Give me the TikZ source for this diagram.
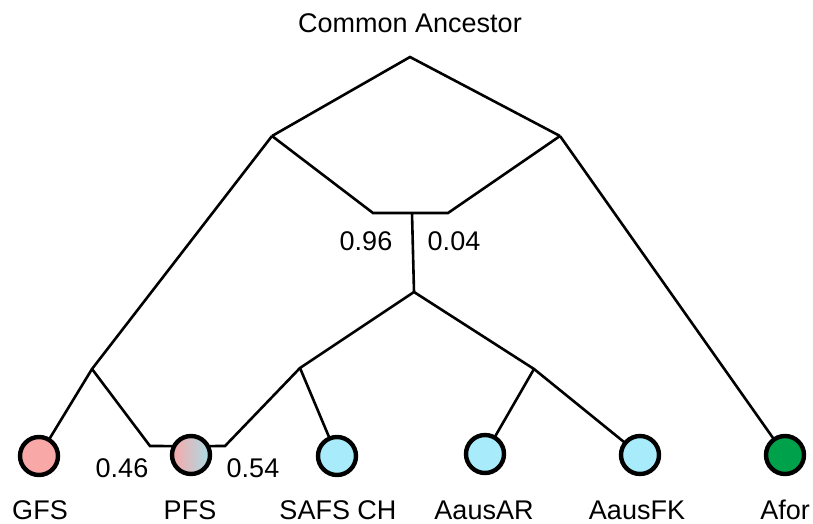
\documentclass[tikz,border=0pt]{standalone}
\usepackage{fontspec}
\setmainfont{Liberation Sans}
\definecolor{gfspink}{HTML}{F9A8A8}
\definecolor{lblue}{HTML}{A8ECFC}
\definecolor{pfsblue}{HTML}{A8DCE6}
\definecolor{afgreen}{HTML}{00A14B}
\begin{document}
\begin{tikzpicture}[x=1pt,y=-1pt,
  branch/.style={line width=2.6pt,line join=miter},
  leaf/.style={circle,draw=black,line width=4.4pt,minimum size=38pt,inner sep=0pt,outer sep=0pt},
  lbl/.style={font=\fontsize{27}{30}\selectfont,inner sep=0pt,anchor=center},
  num/.style={font=\fontsize{27}{30}\selectfont,inner sep=0pt,anchor=center}]
\useasboundingbox (0,0) rectangle (813,524);
% leaves
\node[leaf,fill=gfspink] (gfs) at (39,456) {};
\node[leaf,left color=gfspink,right color=pfsblue] (pfs) at (191,455) {};
\node[leaf,fill=lblue] (safs) at (337,456) {};
\node[leaf,fill=lblue] (aar) at (485,454) {};
\node[leaf,fill=lblue] (afk) at (640,455) {};
\node[leaf,fill=afgreen] (afor) at (785,455) {};
% labels
\node[lbl] (tgfs) at (40,510) {GFS};
\node[lbl] (tpfs) at (190,510) {PFS};
\node[lbl] (tsafs) at (338,510) {SAFS CH};
\node[lbl] (taar) at (484,510) {AausAR};
\node[lbl] (tafk) at (637,510) {AausFK};
\node[lbl] (tafor) at (785,510) {Afor};
\node[lbl] (ca) at (410,23) {Common Ancestor};
% numbers
\node[num] (n96) at (366,241) {0.96};
\node[num] (n04) at (454,241) {0.04};
\node[num] (n46) at (122,468) {0.46};
\node[num] (n54) at (253,468) {0.54};
% internal coordinates
\coordinate (apex) at (410,57);
\coordinate (lv) at (272,136);
\coordinate (rv) at (560,136);
\coordinate (hl) at (373,213);
\coordinate (hr) at (448,213);
\coordinate (mt) at (412,213);
\coordinate (mb) at (414,292);
\coordinate (sb) at (300,368);
\coordinate (ab) at (534,369);
\coordinate (gb) at (92,369);
\coordinate (pl) at (150,446);
\coordinate (pr) at (225,446);
% branches
\draw[branch] (lv) -- (apex) -- (rv);
\draw[branch] (lv) -- (hl) -- (hr) -- (rv);
\draw[branch] (mt) -- (mb);
\draw[branch] (lv) -- (gb) -- (gfs);
\draw[branch] (gb) -- (pl) -- (pfs.152);
\draw[branch] (mb) -- (sb) -- (pr) -- (pfs.28);
\draw[branch] (sb) -- (safs);
\draw[branch] (mb) -- (ab) -- (afk);
\draw[branch] (ab) -- (aar);
\draw[branch] (rv) -- (afor);
\end{tikzpicture}
\end{document}
